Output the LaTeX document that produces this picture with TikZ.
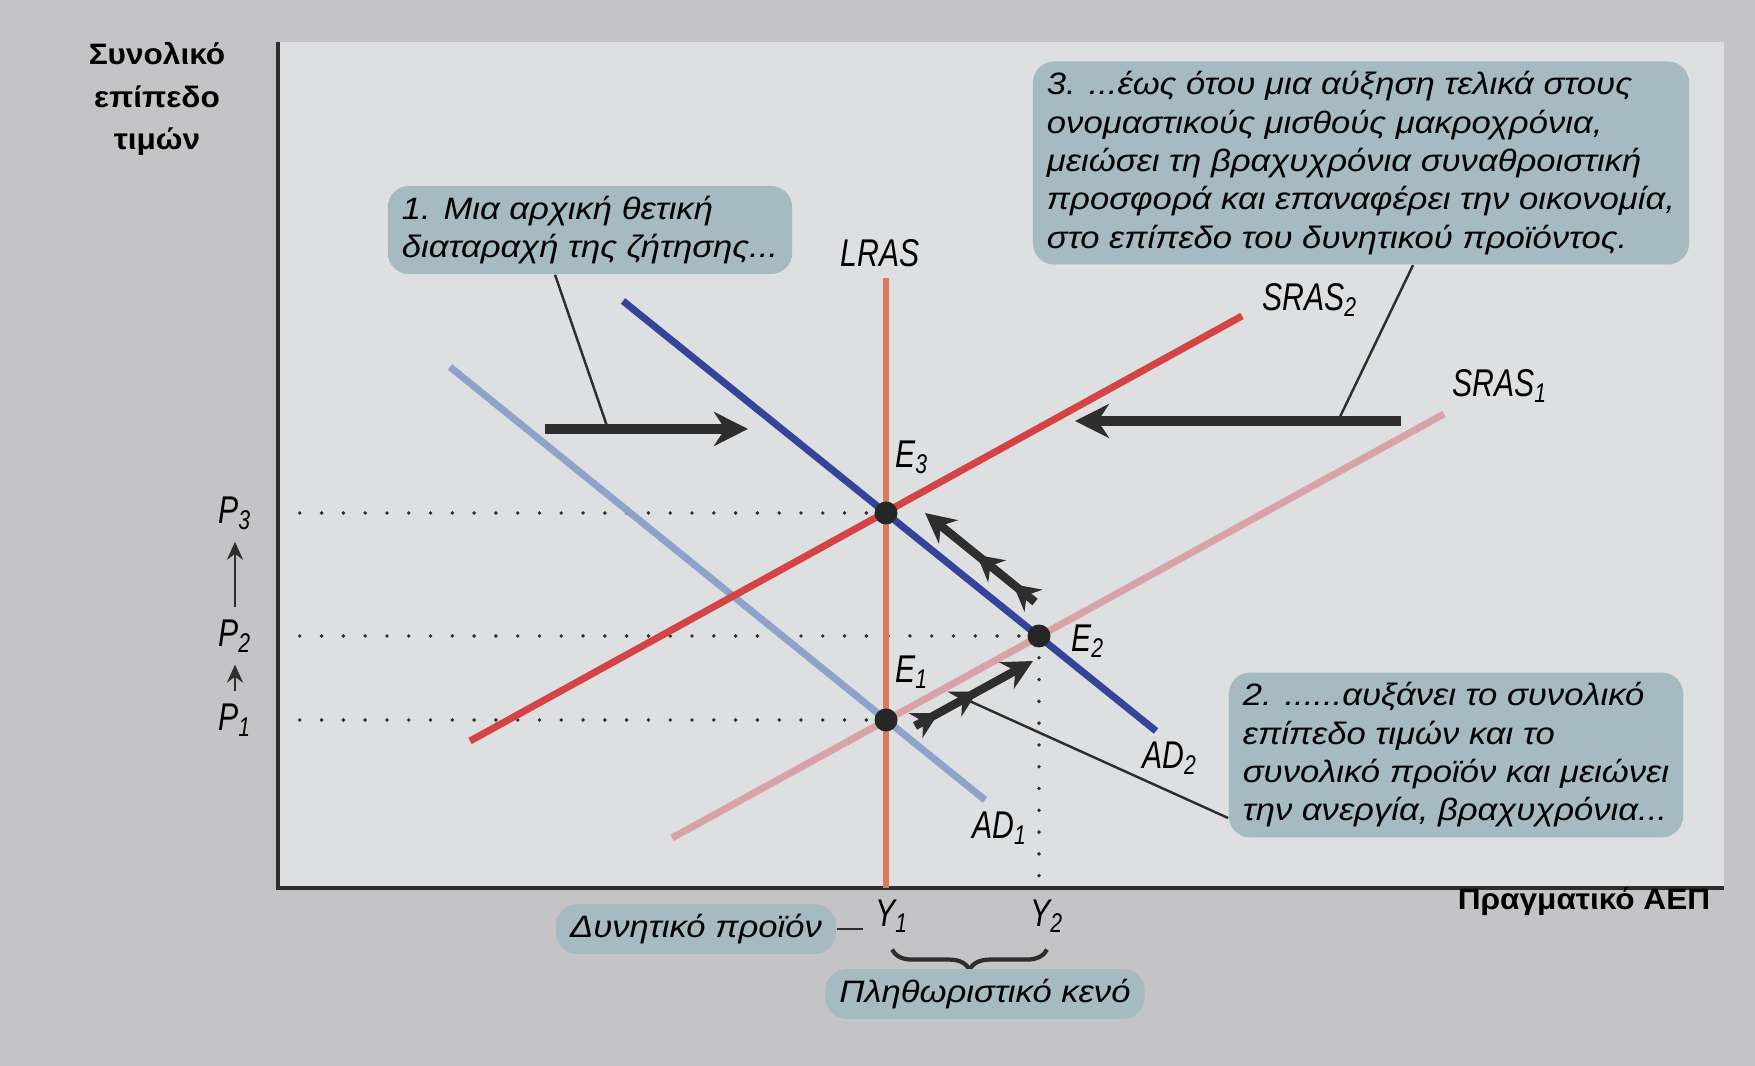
\documentclass[tikz,border=0pt]{standalone}
\usepackage{fontspec}
\setmainfont{Liberation Sans}
\newfontfamily\condfont[FakeStretch=0.78]{Liberation Sans}
\newfontfamily\widefont[FakeStretch=1.12]{Liberation Sans}
\newfontfamily\headfont[FakeStretch=1.07]{Liberation Sans}
\usetikzlibrary{arrows.meta, positioning, calc, decorations.pathreplacing, decorations.markings}
\definecolor{cpage}{HTML}{C4C4C6}
\definecolor{cplot}{HTML}{DEDFE1}
\definecolor{cbox}{HTML}{A6BAC1}
\definecolor{cnavy}{HTML}{33449A}
\definecolor{clight}{HTML}{8EA3CA}
\definecolor{clras}{HTML}{DC7A5F}
\definecolor{cred}{HTML}{D44444}
\definecolor{cpink}{HTML}{D9A2A8}
\definecolor{cink}{HTML}{2E2E2E}
\tikzset{
  every picture/.style={font=\condfont\itshape\fontsize{11}{12}\selectfont},
  callout/.style={fill=cbox, rounded corners=6pt, align=left, inner xsep=1.4mm, inner ysep=1mm, font=\widefont\itshape\fontsize{8.8}{10.9}\selectfont},
  curve/.style={draw=#1, line width=2pt},
  axis/.style={draw=cink, line width=0.9pt},
  dotline/.style={draw=cink, line width=1.1pt, line cap=round, dash pattern=on 0pt off 6.2pt},
  eqdot/.style={circle, fill=black!85, inner sep=0pt, minimum size=2.3mm},
  shiftarrow/.style={draw=cink, line width=2.8pt, -{Stealth[length=3.4mm, width=3.4mm]}},
  movearrow/.style={draw=cink, line width=2.4pt, -{Stealth[length=3mm, width=3mm]}, postaction={decorate},
    decoration={markings, mark=at position 0.2 with {\arrow{Stealth[length=2.6mm, width=2.8mm]}},
      mark=at position 0.53 with {\arrow{Stealth[length=2.6mm, width=2.8mm]}}}},
  pointer/.style={draw=cink, line width=0.7pt},
  smallarrow/.style={draw=cink, line width=0.8pt, -{Stealth[length=1.8mm, width=1.6mm]}},
  axislabel/.style={font=\headfont\bfseries\fontsize{8.4}{12.2}\selectfont, align=center},
}

\begin{document}
\begin{tikzpicture}[x=1cm, y=1cm]
  \useasboundingbox (0,0) rectangle (17.55,10.66);
  \fill[cpage] (0,0) rectangle (17.55,10.66);
  \fill[cplot] (2.78,1.78) rectangle (17.24,10.24);
  % axes
  \coordinate (O) at (2.78,1.78);
  \draw[axis] (2.78,10.24) -- (O) -- (17.24,1.78);
  \node[axislabel] (ylab) at (1.57,9.67) {Συνολικό\\επίπεδο\\τιμών};
  \node[axislabel] (xlab) at (15.84,1.64) {Πραγματικό ΑΕΠ};
  % equilibria
  \coordinate (E1) at (8.86,3.46);
  \coordinate (E2) at (10.39,4.30);
  \coordinate (E3) at (8.86,5.53);
  \draw[dotline] (E3 -| O) -- (E3);
  \draw[dotline] (E2 -| O) -- (E2);
  \draw[dotline] (E1 -| O) -- (E1);
  \draw[dotline] (E2) -- (E2 |- O);
  % curves
  \draw[curve=clight] (4.50,6.99) -- (9.85,2.66);
  \draw[curve=cpink] (6.72,2.28) -- (14.44,6.52);
  \draw[curve=clras, line width=1.5pt] (8.86,7.88) -- (8.86,1.78);
  \draw[curve=cred] (4.70,3.25) -- (12.42,7.50);
  \draw[curve=cnavy] (6.23,7.65) -- (11.56,3.35);
  \node[eqdot] (dE1) at (E1) {};
  \node[eqdot] (dE2) at (E2) {};
  \node[eqdot] (dE3) at (E3) {};
  % curve labels
  \node (lLRAS) at (8.80,8.13) {LRAS};
  \node (lSRAS2) at (13.10,7.66) {SRAS\textsubscript{2}};
  \node (lSRAS1) at (15.00,6.80) {SRAS\textsubscript{1}};
  \node (lAD2) at (11.70,3.08) {AD\textsubscript{2}};
  \node (lAD1) at (10.00,2.38) {AD\textsubscript{1}};
  \node (lE3) at (9.12,6.09) {E\textsubscript{3}};
  \node (lE1) at (9.12,3.94) {E\textsubscript{1}};
  \node (lE2) at (10.88,4.25) {E\textsubscript{2}};
  % price levels
  \node (lP3) at (2.35,5.53) {P\textsubscript{3}};
  \node (lP2) at (2.35,4.30) {P\textsubscript{2}};
  \node (lP1) at (2.35,3.46) {P\textsubscript{1}};
  \draw[smallarrow] (lP1) -- (lP2);
  \draw[smallarrow] (lP2) -- (lP3);
  % output levels
  \node (lY1) at (8.92,1.50) {Y\textsubscript{1}};
  \node (lY2) at (10.47,1.50) {Y\textsubscript{2}};
  \node[callout] (dyn) at (6.96,1.37) {Δυνητικό προϊόν};
  \draw[pointer] (dyn.east) -- (lY1.west |- dyn.east);
  \draw[draw=cink, line width=1.2pt, decorate, decoration={brace, amplitude=2mm}]
    ([yshift=-0.5mm]lY2.south) -- ([yshift=-0.5mm]lY1.south);
  \node[callout] (gap) at (9.85,0.72) {Πληθωριστικό κενό};
  % shifts and movements
  \draw[shiftarrow] (5.45,6.37) -- (7.48,6.37);
  \draw[shiftarrow] (14.01,6.45) -- (10.75,6.45);
  \draw[movearrow] (9.15,3.40) -- (10.33,4.05);
  \draw[movearrow] (10.35,4.64) -- (9.25,5.53);
  \coordinate (t1) at (6.08,6.37);
  \coordinate (t3) at (13.38,6.45);
  \coordinate (t2) at (9.65,3.67);
  % callouts
  \node[callout] (c1) at (5.90,8.36) {1. Μια αρχική θετική\\διαταραχή της ζήτησης...};
  \node[callout] (c3) at (13.61,9.03) {3. ...έως ότου μια αύξηση τελικά στους\\ονομαστικούς μισθούς μακροχρόνια,\\μειώσει τη βραχυχρόνια συναθροιστική\\προσφορά και επαναφέρει την οικονομία,\\στο επίπεδο του δυνητικού προϊόντος.};
  \node[callout] (c2) at (14.56,3.11) {2. ......αυξάνει το συνολικό\\επίπεδο τιμών και το\\συνολικό προϊόν και μειώνει\\την ανεργία, βραχυχρόνια...};
  \draw[pointer] ([xshift=-3.5mm]c1.south) -- (t1);
  \draw[pointer] ([xshift=5.2mm]c3.south) -- (t3);
  \draw[pointer] ([yshift=2mm]c2.south west) -- (t2);
\end{tikzpicture}
\end{document}
